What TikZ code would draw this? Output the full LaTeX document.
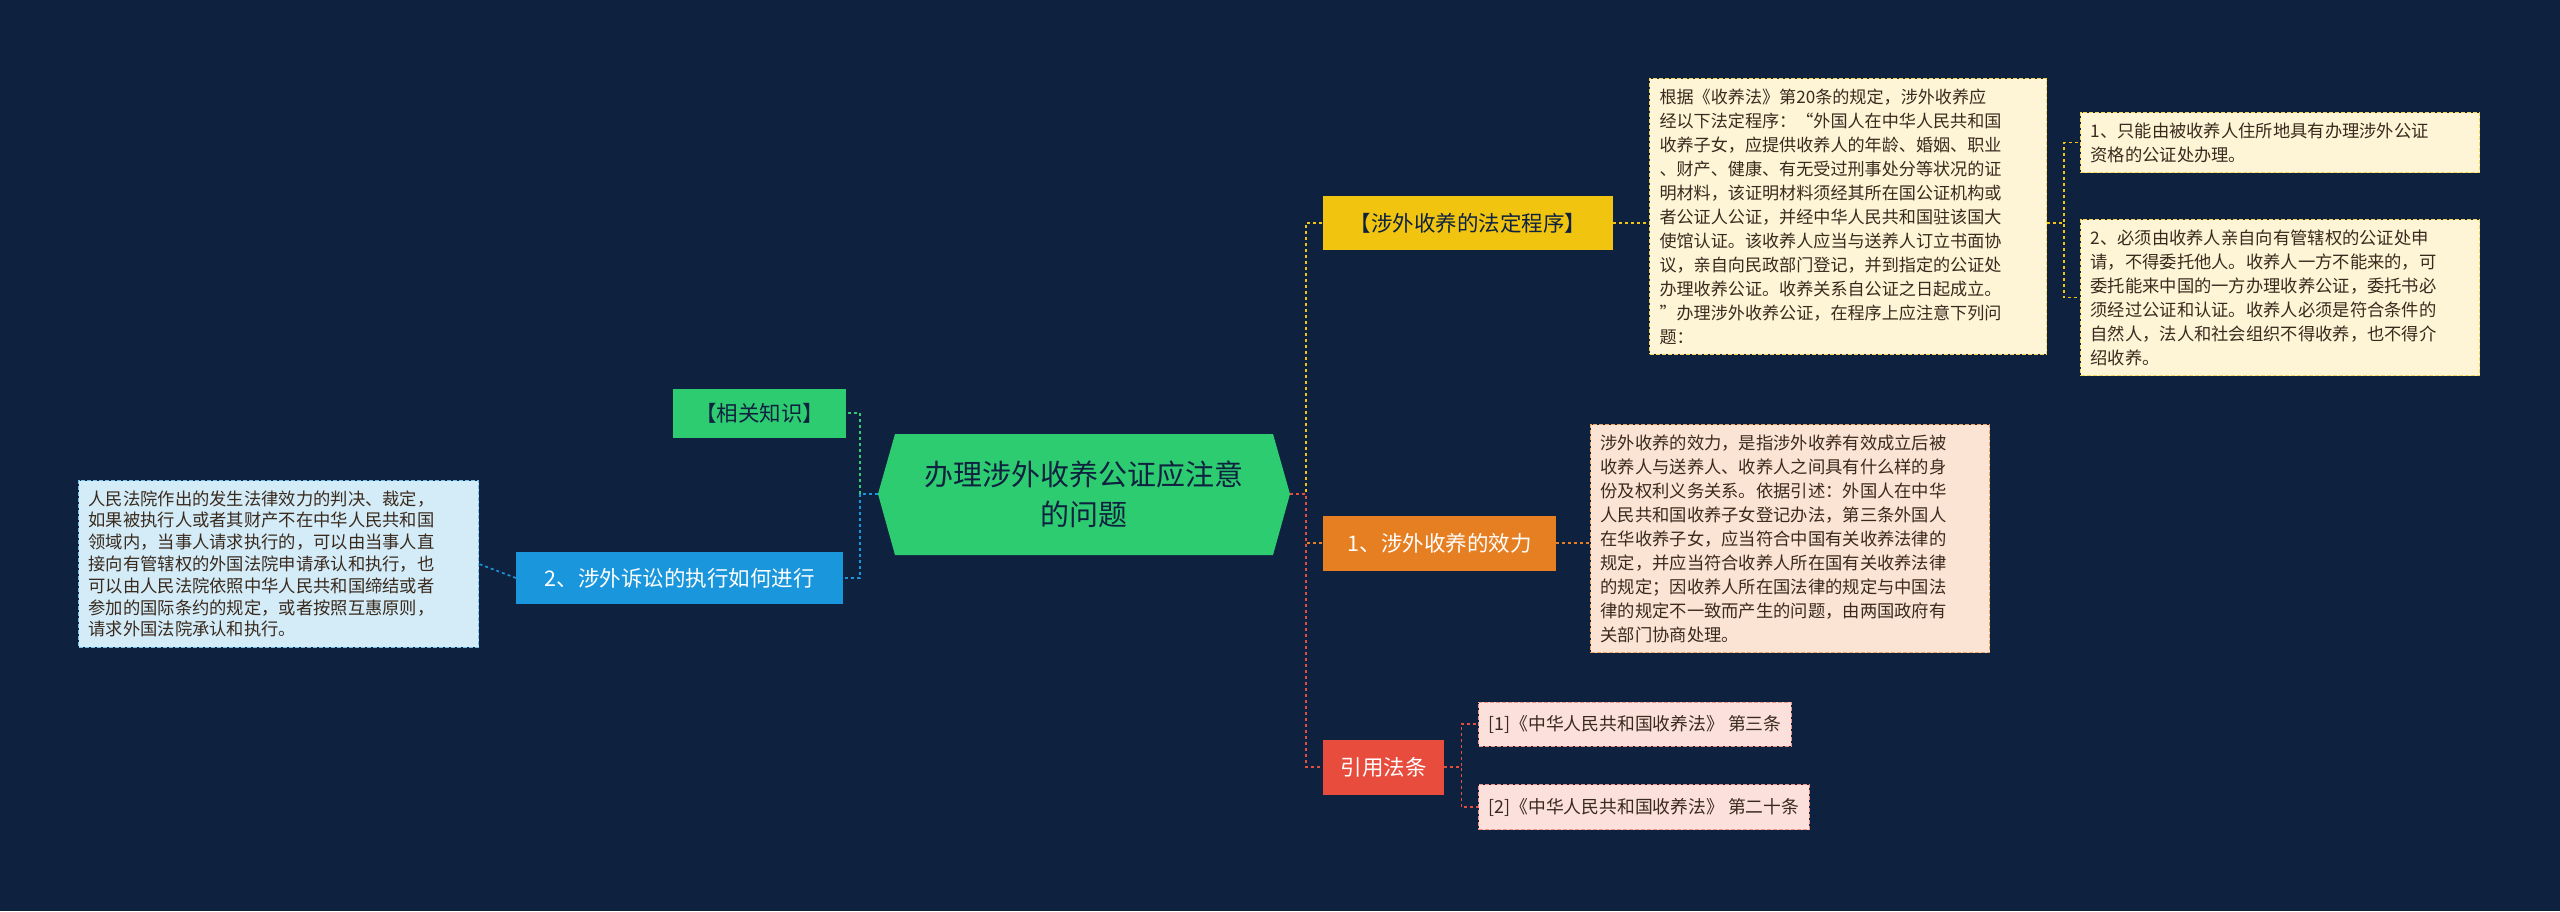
\documentclass[tikz,border=0pt]{standalone}
\usepackage{fontspec}
\setmainfont{Noto Sans CJK SC}
\definecolor{bg}{HTML}{0E2240}
\definecolor{txt}{HTML}{3A2A1E}
\definecolor{cgreen}{HTML}{2ECC71}
\definecolor{cblue}{HTML}{1A96DC}
\definecolor{cyel}{HTML}{F1C40F}
\definecolor{corg}{HTML}{E67E22}
\definecolor{cred}{HTML}{E74C3C}
\definecolor{lyel}{HTML}{FDF5D6}
\definecolor{lorg}{HTML}{FCE4D4}
\definecolor{lred}{HTML}{FCE0DC}
\definecolor{lblue}{HTML}{D3ECF8}
\begin{document}
\begin{tikzpicture}[x=1pt,y=-1pt,
  branch/.style={inner sep=0pt, minimum height=50pt, font=\fontsize{21.5}{25}\selectfont, anchor=west, text=white},
  leaf/.style={draw, dashed, dash pattern=on 4pt off 2pt, line width=1pt, inner sep=0pt, anchor=north west, text=txt, align=left, font=\fontsize{17.4}{20.8}\selectfont},
  conn/.style={dashed, line width=1.6pt}]
\fill[bg] (0,0) rectangle (2560,911);
\useasboundingbox (0,0) rectangle (2560,911);
% center
\fill[cgreen] (878,494) -- (895,434) -- (1273,434) -- (1290,494) -- (1273,555) -- (895,555) -- cycle;
\node[align=center, text=bg, font=\fontsize{29}{40}\selectfont] (c) at (1084,494) {办理涉外收养公证应注意\\的问题};
\coordinate (cr) at (1290,494);
\coordinate (cl) at (878,494);
% branches
\node[branch, fill=cgreen, text=bg, minimum width=173pt, minimum height=49pt] (k) at (673,413) {【相关知识】};
\node[branch, fill=cblue, minimum width=327pt, minimum height=52pt] (s) at (516,578) {2、涉外诉讼的执行如何进行};
\node[branch, fill=cyel, text=bg, minimum width=290pt, minimum height=54pt] (p) at (1323,223) {【涉外收养的法定程序】};
\node[branch, fill=corg, minimum width=233pt, minimum height=55pt] (e) at (1323,543) {1、涉外收养的效力};
\node[branch, fill=cred, minimum width=121pt, minimum height=55pt] (r) at (1323,767) {引用法条};
% leaves
\node[leaf, fill=lblue, draw=cblue!60, text width=400pt-20pt, inner xsep=10pt, inner ysep=10pt, font=\fontsize{17.3}{21.8}\selectfont] (sl) at (78,480) {人民法院作出的发生法律效力的判决、裁定，\\如果被执行人或者其财产不在中华人民共和国\\领域内，当事人请求执行的，可以由当事人直\\接向有管辖权的外国法院申请承认和执行，也\\可以由人民法院依照中华人民共和国缔结或者\\参加的国际条约的规定，或者按照互惠原则，\\请求外国法院承认和执行。};
\node[leaf, fill=lyel, draw=cyel!70, text width=397pt-20pt, inner xsep=10pt, inner ysep=10pt, font=\fontsize{17.1}{24}\selectfont] (pl) at (1649,78) {根据《收养法》第20条的规定，涉外收养应\\经以下法定程序：“外国人在中华人民共和国\\收养子女，应提供收养人的年龄、婚姻、职业\\、财产、健康、有无受过刑事处分等状况的证\\明材料，该证明材料须经其所在国公证机构或\\者公证人公证，并经中华人民共和国驻该国大\\使馆认证。该收养人应当与送养人订立书面协\\议，亲自向民政部门登记，并到指定的公证处\\办理收养公证。收养关系自公证之日起成立。\\”办理涉外收养公证，在程序上应注意下列问\\题：};
\node[leaf, fill=lyel, draw=cyel!70, text width=399pt-20pt, inner xsep=10pt, inner ysep=10pt, font=\fontsize{17.3}{24}\selectfont] (p1) at (2080,112) {1、只能由被收养人住所地具有办理涉外公证\\资格的公证处办理。};
\node[leaf, fill=lyel, draw=cyel!70, text width=399pt-20pt, inner xsep=10pt, inner ysep=10pt, font=\fontsize{17.3}{24}\selectfont] (p2) at (2080,219) {2、必须由收养人亲自向有管辖权的公证处申\\请，不得委托他人。收养人一方不能来的，可\\委托能来中国的一方办理收养公证，委托书必\\须经过公证和认证。收养人必须是符合条件的\\自然人，法人和社会组织不得收养，也不得介\\绍收养。};
\node[leaf, fill=lorg, draw=corg!70, text width=399pt-20pt, inner xsep=10pt, inner ysep=10pt, font=\fontsize{17.3}{24}\selectfont] (el) at (1590,424) {涉外收养的效力，是指涉外收养有效成立后被\\收养人与送养人、收养人之间具有什么样的身\\份及权利义务关系。依据引述：外国人在中华\\人民共和国收养子女登记办法，第三条外国人\\在华收养子女，应当符合中国有关收养法律的\\规定，并应当符合收养人所在国有关收养法律\\的规定；因收养人所在国法律的规定与中国法\\律的规定不一致而产生的问题，由两国政府有\\关部门协商处理。};
\node[leaf, fill=lred, draw=cred!60, anchor=west, minimum height=44pt, inner xsep=10pt, font=\fontsize{17.8}{20}\selectfont] (r1) at (1478,724) {[1]《中华人民共和国收养法》 第三条};
\node[leaf, fill=lred, draw=cred!60, anchor=west, minimum height=45pt, inner xsep=10pt, font=\fontsize{17.8}{20}\selectfont] (r2) at (1478,807) {[2]《中华人民共和国收养法》 第二十条};
% connectors
\draw[conn, cyel] (cr) -- ++(16,0) |- (p.west);
\draw[conn, corg] (cr) -- ++(16,0) |- (e.west);
\draw[conn, cred] (cr) -- ++(16,0) |- (r.west);
\draw[conn, cgreen] (cl) -- ++(-18,0) |- (k.east);
\draw[conn, cblue] (cl) -- ++(-18,0) |- (s.east);
\draw[conn, cblue] (s.west) -- (sl.east);
\draw[conn, cyel] (p.east) -- (p.east -| pl.west);
\draw[conn, cyel] (p.east -| pl.east) -- ++(17,0) |- (p1.west);
\draw[conn, cyel] (p.east -| pl.east) -- ++(17,0) |- (p2.west);
\draw[conn, corg] (e.east) -- (e.east -| el.west);
\draw[conn, cred] (r.east) -- ++(17,0) |- (r1.west);
\draw[conn, cred] (r.east) -- ++(17,0) |- (r2.west);
\end{tikzpicture}
\end{document}
